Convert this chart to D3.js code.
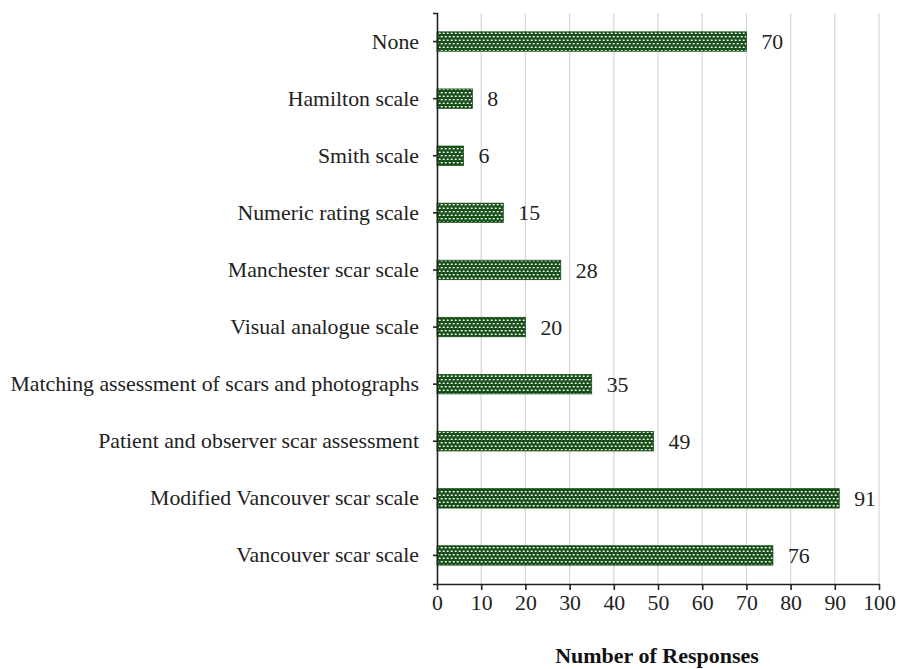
<!DOCTYPE html>
<html>
<head>
<meta charset="utf-8">
<script src="https://cdn.jsdelivr.net/npm/d3@7"></script>
<style>
  html, body { margin: 0; padding: 0; background: #fff; }
  svg { display: block; }
</style>
</head>
<body>
<svg id="chart" width="902" height="669"></svg>
<script>
// Scar assessment scales used, number of responses
const categories = [
  "None",
  "Hamilton scale",
  "Smith scale",
  "Numeric rating scale",
  "Manchester scar scale",
  "Visual analogue scale",
  "Matching assessment of scars and photographs",
  "Patient and observer scar assessment",
  "Modified Vancouver scar scale",
  "Vancouver scar scale"
];
const responses = [70, 8, 6, 15, 28, 20, 35, 49, 91, 76];
const xTicks = [0, 10, 20, 30, 40, 50, 60, 70, 80, 90, 100];
const xTitle = "Number of Responses";

const svg = d3.select("#chart");
const margin = { left: 437, right: 23, top: 13, bottom: 85 };
const W = 902, H = 669;
const plotBottom = H - margin.bottom;

const x = d3.scaleLinear().domain([0, 100]).range([margin.left, W - margin.right]);
const y = d3.scaleBand().domain(categories).range([margin.top, plotBottom]).paddingInner(0.66).paddingOuter(0.33);

const font = "'Liberation Serif', 'Times New Roman', serif";
const fontSize = 21.8;
const green = "#174f19";

// Hatched fill for the bars: dark green with small white dashes in offset rows
const defs = svg.append("defs");
const pat = defs.append("pattern")
  .attr("id", "dots")
  .attr("patternUnits", "userSpaceOnUse")
  .attr("width", 4).attr("height", 7);
pat.append("rect").attr("width", 4).attr("height", 7).attr("fill", green);
pat.append("rect").attr("x", 0.6).attr("y", 1).attr("width", 2.2).attr("height", 1.5).attr("rx", 0.7).attr("fill", "#ffffff");
pat.append("rect").attr("x", 2.6).attr("y", 4.5).attr("width", 2.2).attr("height", 1.5).attr("rx", 0.7).attr("fill", "#ffffff");
pat.append("rect").attr("x", -1.4).attr("y", 4.5).attr("width", 2.2).attr("height", 1.5).attr("rx", 0.7).attr("fill", "#ffffff");

// Vertical gridlines
svg.append("g")
  .selectAll("line")
  .data(xTicks.filter(d => d > 0))
  .join("line")
  .attr("x1", d => x(d)).attr("x2", d => x(d))
  .attr("y1", margin.top).attr("y2", plotBottom)
  .attr("stroke", "#d6d6d6").attr("stroke-width", 1.2);

// Bars
svg.append("g")
  .selectAll("rect")
  .data(categories)
  .join("rect")
  .attr("x", x(0))
  .attr("y", d => y(d))
  .attr("width", (d, i) => x(responses[i]) - x(0))
  .attr("height", y.bandwidth())
  .attr("fill", "url(#dots)")
  .attr("stroke", green).attr("stroke-width", 0.8);

// Value labels
svg.append("g")
  .selectAll("text")
  .data(categories)
  .join("text")
  .attr("x", (d, i) => x(responses[i]) + 15)
  .attr("y", d => y(d) + y.bandwidth() / 2)
  .attr("dy", "0.35em")
  .attr("font-family", font)
  .attr("font-size", fontSize)
  .attr("fill", "#222")
  .text((d, i) => responses[i]);

// X axis
const xAxis = svg.append("g")
  .attr("transform", `translate(0,${plotBottom})`)
  .call(d3.axisBottom(x).tickValues(xTicks).tickSize(6).tickSizeOuter(0).tickPadding(5));
xAxis.select(".domain").attr("stroke", "#222").attr("stroke-width", 1.6);
xAxis.selectAll(".tick line").attr("stroke", "#222").attr("stroke-width", 1.6);
xAxis.selectAll("text").attr("font-family", font).attr("font-size", fontSize).attr("fill", "#222");

// Y axis
const yAxis = svg.append("g")
  .attr("transform", `translate(${margin.left},0)`)
  .call(d3.axisLeft(y).tickSize(4).tickSizeOuter(4).tickPadding(14));
yAxis.select(".domain").attr("stroke", "#222").attr("stroke-width", 1.6);
yAxis.selectAll(".tick line").attr("stroke", "#222").attr("stroke-width", 1.6);
yAxis.selectAll("text").attr("font-family", font).attr("font-size", fontSize).attr("fill", "#222");

// Axis title
svg.append("text")
  .attr("x", 657).attr("y", 663)
  .attr("text-anchor", "middle")
  .attr("font-family", font)
  .attr("font-size", 22)
  .attr("font-weight", "bold")
  .attr("fill", "#111")
  .text(xTitle);
</script>
</body>
</html>
